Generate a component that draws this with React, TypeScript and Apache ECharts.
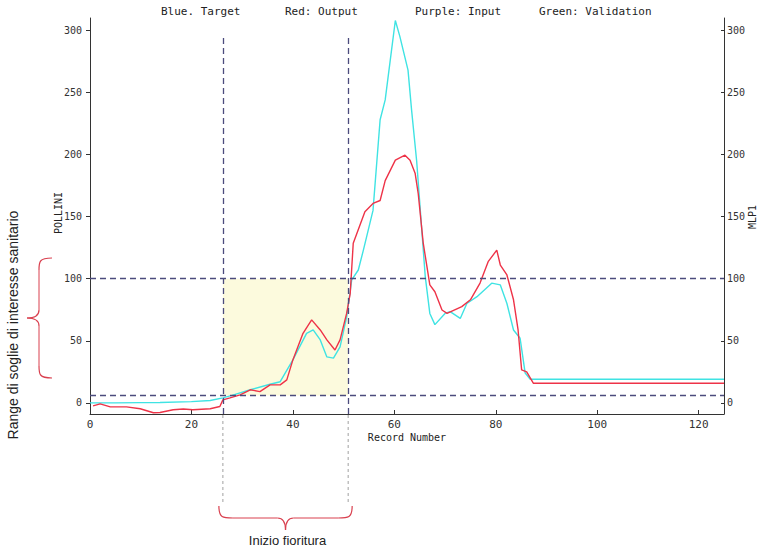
import React, { useEffect, useRef } from 'react';
import * as echarts from 'echarts';

// Target (cyan) series: record number / value
const targetX = [0, 5, 10, 13.8, 20, 23.7, 26.2, 28, 31.6, 35.5, 37.5, 40, 42.7, 44, 45.4, 46.7, 48, 49.3, 50.6, 51.6, 52.9, 53.9, 55.8, 57.2, 58.2, 59.2, 60.2, 61.1, 62.7, 63.4, 64.4, 66.1, 67, 68, 70, 71, 73, 74.3, 76.3, 79.2, 80.9, 82.2, 83.5, 84.8, 85.8, 86.8, 125];
const targetY = [0, 0, 0.2, 0.3, 1, 1.9, 4, 6, 10.5, 15, 17, 34.6, 56, 58.7, 50.7, 37, 36, 45, 69, 99, 107, 123, 155, 228, 244, 276, 308, 295, 268, 236, 195, 101.6, 72, 63, 72, 73.5, 68, 80, 85.5, 96.4, 95, 80, 58.7, 52, 24, 19, 19];

// Output (red) series
const outputX = [0.6, 2, 4, 7.2, 9.9, 12.5, 13.8, 16.4, 18.4, 20.3, 23.7, 25.6, 26.2, 27.6, 29.6, 31.6, 33.5, 35.5, 37.5, 38.8, 40, 42, 43.7, 45.4, 46.7, 48.3, 49.3, 50.6, 51.3, 51.9, 54.2, 55.8, 57.2, 58.2, 60.2, 62.1, 63.1, 64.1, 64.7, 65.7, 67, 68, 69.4, 70.4, 73.3, 75, 76.9, 78.5, 80.2, 80.9, 82.2, 83.5, 84.4, 85.1, 86.1, 87.4, 125];
const outputY = [-2.4, -0.8, -3.3, -3.3, -4.8, -8, -7.8, -5.6, -5, -5.6, -4.8, -3, 2.4, 4, 6.4, 10.5, 9, 14.5, 14.5, 18.5, 34.6, 56, 66.8, 58.7, 50.7, 42.6, 50.7, 72, 88, 128.5, 154, 160.6, 163, 179, 195.5, 199.5, 195.5, 185, 169, 128.7, 95, 89.5, 74.8, 72, 77.5, 83, 96.5, 113.7, 123, 111, 103, 83, 58.7, 26.5, 25, 15.8, 15.8];

const xTicks = [0, 20, 40, 60, 80, 100, 120];
const yTicks = [0, 50, 100, 150, 200, 250, 300];
const bloomStart = 26.2;
const bloomEnd = 50.9;
const bloomLineTop = 294;
const thresholdLow = 6;
const thresholdHigh = 100;
const legendTexts = ['Blue. Target', 'Red: Output', 'Purple: Input', 'Green: Validation'];
const legendXs = [161, 285, 415, 539];

const MONO = '"DejaVu Sans Mono", monospace';
const SANS = 'Arial, "Liberation Sans", sans-serif';

export default function App() {
  const ref = useRef<HTMLDivElement>(null);
  useEffect(() => {
    const chart = echarts.init(ref.current!, null, { renderer: 'svg' });
    const yAxisBase = {
      type: 'value',
      min: -9,
      max: 310,
      splitLine: { show: false },
      axisLine: { show: true, lineStyle: { color: '#333', width: 1 } },
    };
    chart.setOption({
      animation: false,
      backgroundColor: '#ffffff',
      grid: { left: 90, right: 39, top: 18, bottom: 138, outerBoundsMode: 'none', containLabel: false },
      xAxis: {
        type: 'value',
        min: 0,
        max: 125,
        splitLine: { show: false },
        axisLine: { onZero: false, lineStyle: { color: '#333', width: 1 } },
        axisTick: { inside: true, length: 4, customValues: xTicks, lineStyle: { color: '#333' } },
        axisLabel: { customValues: xTicks, fontFamily: MONO, fontSize: 11, color: '#333', margin: 5 },
      },
      yAxis: [
        {
          ...yAxisBase,
          position: 'left',
          axisTick: { inside: false, length: 4, customValues: yTicks, lineStyle: { color: '#333' } },
          axisLabel: { customValues: yTicks, fontFamily: MONO, fontSize: 10, color: '#333', margin: 8 },
        },
        {
          ...yAxisBase,
          position: 'right',
          axisTick: { inside: true, length: 3, customValues: yTicks, lineStyle: { color: '#333' } },
          axisLabel: { customValues: yTicks, fontFamily: MONO, fontSize: 10, color: '#333', margin: 3 },
        },
      ],
      series: [
        {
          name: 'Target',
          type: 'line',
          data: targetX.map((x, i) => [x, targetY[i]]),
          showSymbol: false,
          lineStyle: { color: '#3fe3e3', width: 1.4 },
          z: 3,
          markArea: {
            silent: true,
            itemStyle: { color: '#fcfadd' },
            data: [[{ coord: [bloomStart, thresholdLow] }, { coord: [bloomEnd, thresholdHigh] }]],
          },
          markLine: {
            silent: true,
            symbol: ['none', 'none'],
            label: { show: false },
            lineStyle: { color: '#4b4b7d', type: [6, 4], width: 1.3 },
            data: [
              { yAxis: thresholdHigh },
              { yAxis: thresholdLow },
              [{ coord: [bloomStart, -9] }, { coord: [bloomStart, bloomLineTop] }],
              [{ coord: [bloomEnd, -9] }, { coord: [bloomEnd, bloomLineTop] }],
            ],
          },
        },
        {
          name: 'Output',
          type: 'line',
          data: outputX.map((x, i) => [x, outputY[i]]),
          showSymbol: false,
          lineStyle: { color: '#ee3348', width: 1.4 },
          z: 4,
        },
      ],
    });

    const xs = chart.convertToPixel({ xAxisIndex: 0 }, bloomStart) as number;
    const xe = chart.convertToPixel({ xAxisIndex: 0 }, bloomEnd) as number;
    const yAxisBottom = chart.convertToPixel({ yAxisIndex: 0 }, -9) as number;
    const braceColor = '#d9404f';
    const braceY = 506;
    const braceMidY = 518;
    const braceTipY = 530;
    const mid = (xs + xe) / 2;

    const bz = (x1: number, y1: number, cx1: number, cy1: number, cx2: number, cy2: number, x2: number, y2: number) => ({
      type: 'bezierCurve',
      silent: true,
      shape: { x1, y1, cpx1: cx1, cpy1: cy1, cpx2: cx2, cpy2: cy2, x2, y2 },
      style: { stroke: braceColor, lineWidth: 1.2, fill: null },
    });
    const ln = (x1: number, y1: number, x2: number, y2: number, stroke: string, dash?: number[]) => ({
      type: 'line',
      silent: true,
      shape: { x1, y1, x2, y2 },
      style: { stroke, lineWidth: 1, lineDash: dash },
    });
    const txt = (text: string, x: number, y: number, font: string, size: number, rotation = 0) => ({
      type: 'text',
      x,
      y,
      rotation,
      silent: true,
      style: { text, fontFamily: font, fontSize: size, fill: '#222', textAlign: 'center', textVerticalAlign: 'middle' },
    });

    // left brace (vertical)
    const lbTop = 258, lbBot = 378, lbMid = 318, lbEnd = 52, lbBar = 39, lbTip = 27;
    const graphics: any[] = [
      ...legendTexts.map((t, i) => ({
        type: 'text',
        x: legendXs[i],
        y: 11,
        silent: true,
        style: { text: t, fontFamily: MONO, fontSize: 11, fill: '#222', textVerticalAlign: 'middle' },
      })),
      txt('POLLINI', 58, 213, MONO, 10, Math.PI / 2),
      txt('MLP1', 752, 217, MONO, 10, Math.PI / 2),
      txt('Record Number', 407, 437, MONO, 10),
      ln(xs, yAxisBottom + 1, xs, braceY - 2, '#a0a0a0', [3, 3]),
      ln(xe, yAxisBottom + 1, xe, braceY - 2, '#a0a0a0', [3, 3]),
      // bottom brace
      bz(xs - 4, braceY, xs - 4, braceMidY, xs, braceMidY, xs + 10, braceMidY),
      ln(xs + 10, braceMidY, mid - 8, braceMidY, braceColor),
      bz(mid - 8, braceMidY, mid - 2, braceMidY, mid, braceMidY + 4, mid, braceTipY),
      bz(mid, braceTipY, mid, braceMidY + 4, mid + 2, braceMidY, mid + 8, braceMidY),
      ln(mid + 8, braceMidY, xe - 10, braceMidY, braceColor),
      bz(xe - 10, braceMidY, xe, braceMidY, xe + 4, braceMidY, xe + 4, braceY),
      txt('Inizio fioritura', mid + 2, 540, SANS, 13),
      // left brace
      bz(lbEnd, lbTop, lbBar, lbTop, lbBar, lbTop + 4, lbBar, lbTop + 12),
      ln(lbBar, lbTop + 12, lbBar, lbMid - 8, braceColor),
      bz(lbBar, lbMid - 8, lbBar, lbMid - 2, lbBar - 4, lbMid, lbTip, lbMid),
      bz(lbTip, lbMid, lbBar - 4, lbMid, lbBar, lbMid + 2, lbBar, lbMid + 8),
      ln(lbBar, lbMid + 8, lbBar, lbBot - 12, braceColor),
      bz(lbBar, lbBot - 12, lbBar, lbBot - 4, lbBar, lbBot, lbEnd, lbBot),
      txt('Range di soglie di interesse sanitario', 13, 325, SANS, 14, Math.PI / 2),
    ];
    chart.setOption({ graphic: graphics });
    return () => chart.dispose();
  }, []);
  return <div ref={ref} style={{ position: 'absolute', left: 0, top: 0, width: 763, height: 552, background: '#fff' }} />;
}
